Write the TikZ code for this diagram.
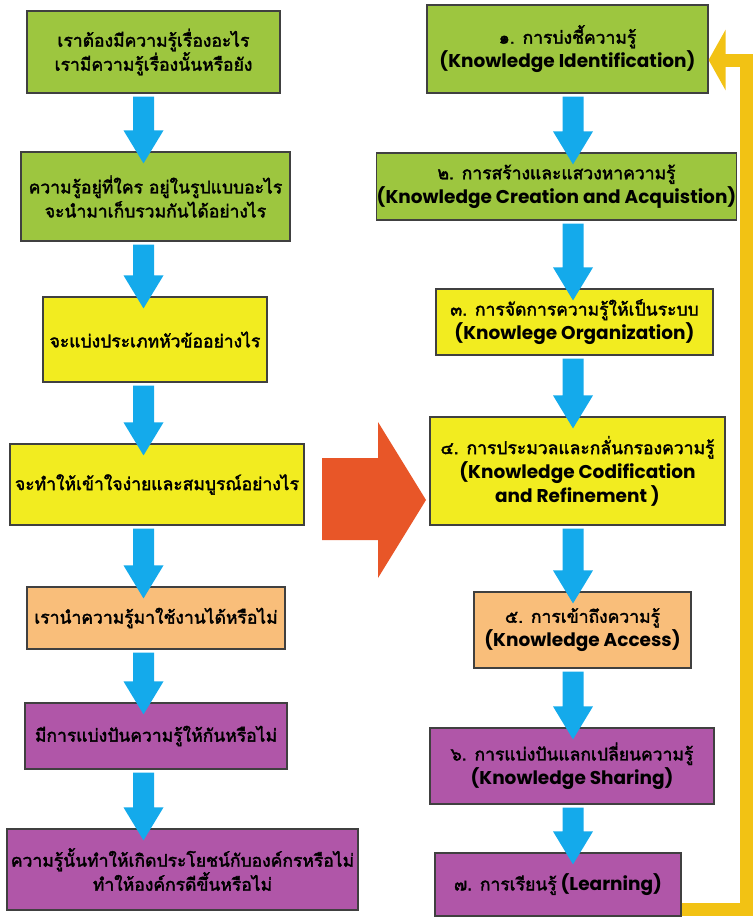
\documentclass[tikz,border=0pt]{standalone}
\usepackage{fontspec}
\setmainfont{Poppins}
\newfontfamily\thaifont[Script=Thai, FakeBold=2.2]{Loma}
\usetikzlibrary{calc,arrows.meta}

\definecolor{kmgreen}{RGB}{157,198,63}
\definecolor{kmyellow}{RGB}{242,236,32}
\definecolor{kmpeach}{RGB}{249,190,122}
\definecolor{kmpurple}{RGB}{176,86,168}
\definecolor{kmblue}{RGB}{20,170,235}
\definecolor{kmred}{RGB}{232,86,40}
\definecolor{kmgold}{RGB}{242,194,20}

\newcommand{\downarr}[3]{%
  \fill[kmblue] ($(#1.south -| #3)+(-10.5,3)$) -- ($(#2.north -| #3)+(-10.5,-21)$)
    -- ($(#2.north -| #3)+(-20,-21)$) -- ($(#2.north -| #3)+(0,12)$)
    -- ($(#2.north -| #3)+(20,-21)$) -- ($(#2.north -| #3)+(10.5,-21)$)
    -- ($(#1.south -| #3)+(10.5,3)$) -- cycle;}
\newcommand{\thline}[1]{{\thaifont\mdseries\fontsize{17.5}{24}\selectfont #1}}

\begin{document}
\begin{tikzpicture}[x=1pt, y=-1pt,
    box/.style={draw=black!75, line width=1.2pt, align=center, inner sep=0pt,
      font=\bfseries\fontsize{18.5}{24}\selectfont},
    th/.style={font=\thaifont\mdseries\fontsize{17.5}{24}\selectfont}]
                \useasboundingbox (0,0) rectangle (753,918);
                % left column: questions
                \node [box, th, fill=kmgreen, minimum width=253, minimum height=82] (q1) at (153.5, 52) {เราต้องมีความรู้เรื่องอะไร\\เรามีความรู้เรื่องนั้นหรือยัง};
                \node [box, th, fill=kmgreen, minimum width=269, minimum height=89] (q2) at (155.5, 196.5) {ความรู้อยู่ที่ใคร อยู่ในรูปแบบอะไร\\จะนำมาเก็บรวมกันได้อย่างไร};
                \node [box, th, fill=kmyellow, minimum width=224, minimum height=85] (q3) at (155, 339.5) {จะแบ่งประเภทหัวข้ออย่างไร};
                \node [box, th, fill=kmyellow, minimum width=294, minimum height=81] (q4) at (157, 484.5) {จะทำให้เข้าใจง่ายและสมบูรณ์อย่างไร};
                \node [box, th, fill=kmpeach, minimum width=258, minimum height=62] (q5) at (156, 618) {เรานำความรู้มาใช้งานได้หรือไม่};
                \node [box, th, fill=kmpurple, minimum width=262, minimum height=66] (q6) at (156, 736) {มีการแบ่งปันความรู้ให้กันหรือไม่};
                \node [box, th, fill=kmpurple, minimum width=351, minimum height=81] (q7) at (182.5, 869.5) {ความรู้นั้นทำให้เกิดประโยชน์กับองค์กรหรือไม่\\ทำให้องค์กรดีขึ้นหรือไม่};
                % right column: process steps
                \node [box, fill=kmgreen, minimum width=281, minimum height=88] (s1) at (567.5, 49) {\thline{๑. การบ่งชี้ความรู้}\\(Knowledge Identification)};
                \node [box, fill=kmgreen, minimum width=359, minimum height=67] (s2) at (556.5, 186.5) {\thline{๒. การสร้างและแสวงหาความรู้}\\(Knowledge Creation and Acquistion)};
                \node [box, fill=kmyellow, minimum width=277, minimum height=66] (s3) at (574.5, 322) {\thline{๓. การจัดการความรู้ให้เป็นระบบ}\\(Knowlege Organization)};
                \node [box, fill=kmyellow, minimum width=295, minimum height=108] (s4) at (577.5, 471) {\thline{๔. การประมวลและกลั่นกรองความรู้}\\(Knowledge Codification\\and Refinement )};
                \node [box, fill=kmpeach, minimum width=217, minimum height=76] (s5) at (582.5, 630) {\thline{๕. การเข้าถึงความรู้}\\(Knowledge Access)};
                \node [box, fill=kmpurple, minimum width=284, minimum height=76] (s6) at (572, 766) {\thline{๖. การแบ่งปันแลกเปลี่ยนความรู้}\\(Knowledge Sharing)};
                \node [box, fill=kmpurple, minimum width=246, minimum height=63] (s7) at (558, 884.5) {\thline{๗. การเรียนรู้} (Learning)};
                % blue arrows
                \coordinate (lcol) at (143.5, 0);
                \coordinate (rcol) at (573, 0);
                \foreach \a/\b in {q1/q2, q2/q3, q3/q4, q4/q5, q5/q6, q6/q7}
                    \downarr{\a}{\b}{lcol};
                \foreach \a/\b in {s1/s2, s2/s3, s3/s4, s4/s5, s5/s6, s6/s7}
                    \downarr{\a}{\b}{rcol};
                % big arrow between the columns
                \fill [kmred] (322, 458) -- (378, 458) -- (378, 422) -- (426, 500) -- (378, 578) -- (378, 540) -- (322, 540) -- cycle;
                % feedback loop
                \coordinate (fbbot) at (746.5, 909);
                \coordinate (fbtop) at (746.5, 60);
                \draw [kmgold, line width=13pt, -{Triangle[length=17pt, width=60pt]}] (s7.east |- fbbot) -- (fbbot) -- (fbtop) -- (s1.east |- fbtop);
            \end{tikzpicture}
\end{document}
